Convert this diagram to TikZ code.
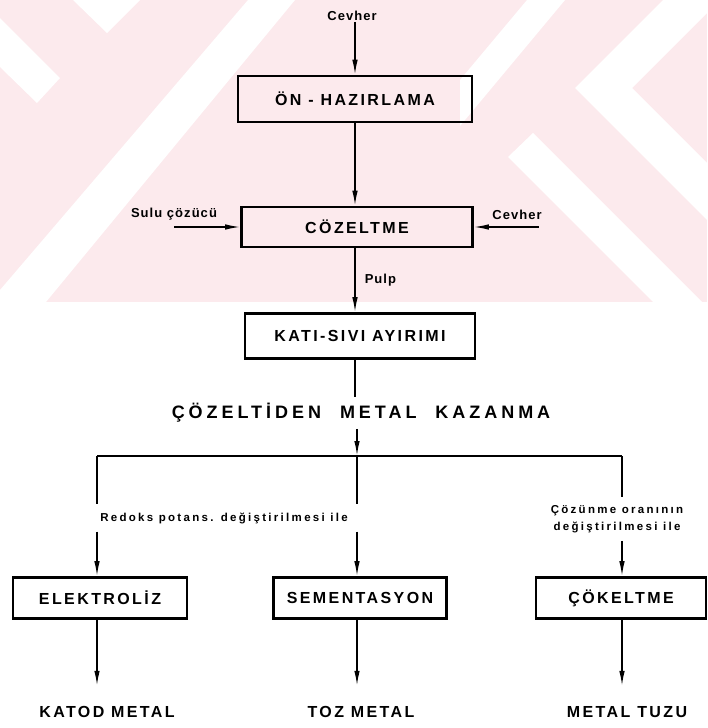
\documentclass[tikz,border=0pt]{standalone}
\usepackage{fontspec}
\setmainfont{Liberation Sans}
\newfontfamily\boxfont[LetterSpace=15]{Liberation Sans}
\newfontfamily\feedfont[LetterSpace=8]{Liberation Sans}
\newfontfamily\notefont[LetterSpace=20]{Liberation Sans}
\newfontfamily\headfont[LetterSpace=22]{Liberation Sans}
\usetikzlibrary{arrows.meta}
\definecolor{wmpink}{RGB}{252,234,237}

\tikzset{
  proc/.style={draw,line width=2.6pt,inner sep=0pt,
    font=\boxfont\bfseries\fontsize{16}{18}\selectfont},
  flow/.style={line width=1.5pt},
  lbl/.style={inner sep=1pt,font=\feedfont\bfseries\fontsize{13}{15}\selectfont},
  note/.style={inner xsep=2pt,inner ysep=8pt,align=center,
    font=\notefont\bfseries\fontsize{11.5}{17}\selectfont},
  head/.style={inner ysep=6pt,font=\headfont\bfseries\fontsize{18}{20}\selectfont},
  product/.style={font=\boxfont\bfseries\fontsize{16}{18}\selectfont}
}

\begin{document}
\begin{tikzpicture}[x=1pt,y=-1pt,>={Latex[length=15pt,width=5.5pt]}]
    \def\boxh{41}
    \useasboundingbox (0,0) rectangle (707,728);

    \fill[wmpink] (0,0) rectangle (707,302);
    \fill[white] (0,18) -- (60,78) -- (37,103) -- (0,67) -- cycle;
    \fill[white] (73,0) -- (140,0) -- (107,33) -- cycle;
    \fill[white] (0,290) -- (248,0) -- (295,0) -- (46,302) -- (0,302) -- cycle;
    \fill[white] (527,0) -- (565,0) -- (460,126) -- (460,80) -- cycle;
    \fill[white] (663,0) -- (575,88) -- (707,220) -- (707,163)
        -- (632,88) -- (707,13) -- (707,0) -- cycle;
    \fill[white] (533,133) -- (702,302) -- (653,302) -- (508,157) -- cycle;

    \coordinate (ax) at (355,0);
    \node[lbl] (cevher) at (352,16) {Cevher};
    \node[proc,minimum width=234,minimum height=46] (onhaz) at (355,99) {ÖN - HAZIRLAMA};
    \node[proc,minimum width=231,minimum height=40] (cozel) at (357,227) {CÖZELTME};
    \node[lbl] (sulu) at (174,214) {Sulu çözücü};
    \node[lbl] (cevher2) at (517,215) {Cevher};
    \node[proc,minimum width=230,minimum height=45] (kati) at (360,336) {KATI-SIVI AYIRIMI};
    \node[head] (baslik) at (361,413) {ÇÖZELTİDEN\hspace{10pt} METAL\hspace{10pt} KAZANMA};

    \draw[->,flow] (cevher.south -| ax) -- (onhaz.north -| ax);
    \draw[->,flow] (onhaz.south -| ax) -- (cozel.north -| ax);
    \draw[->,flow] (sulu.south |- cozel.west) -- (cozel.west);
    \draw[->,flow] ([xshift=-4pt]cevher2.south east |- cozel.east) -- (cozel.east);
    \draw[->,flow] (cozel.south -| ax) -- (kati.north -| ax)
        node[lbl,midway,right=8pt] (pulp) {Pulp};
    \draw[flow] (kati.south -| ax) -- (baslik.north -| ax);

    \coordinate (dal) at (357,456);
    \coordinate (dalL) at (97,456);
    \coordinate (dalR) at (622,456);
    \draw[->,flow] (baslik.south -| dal) -- (dal);
    \draw[flow] (dalL) -- (dalR);

    \node[note] (redoks) at (224,518) {Redoks potans. değiştirilmesi ile};
    \node[note] (cozunme) at (617,519) {Çözünme oranının\\değiştirilmesi ile};

    \node[proc,minimum width=174,minimum height=\boxh] (elek) at (100,598) {ELEKTROLİZ};
    \node[proc,minimum width=173,minimum height=\boxh] (sement) at (360,598) {SEMENTASYON};
    \node[proc,minimum width=170,minimum height=\boxh] (cokel) at (621,598) {ÇÖKELTME};

    \draw[flow] (dalL) -- (dalL |- redoks.north);
    \draw[->,flow] (dalL |- redoks.south) -- (elek.north -| dalL);
    \draw[flow] (dal) -- (dal |- redoks.north);
    \draw[->,flow] (dal |- redoks.south) -- (sement.north -| dal);
    \draw[flow] (dalR) -- (cozunme.north -| dalR);
    \draw[->,flow] (cozunme.south -| dalR) -- (cokel.north -| dalR);

    \node[product] (katod) at (107,712) {KATOD METAL};
    \node[product] (toz) at (361,712) {TOZ METAL};
    \node[product] (tuz) at (627,712) {METAL TUZU};

    \draw[->,flow,shorten >=17pt] (elek.south -| dalL) -- (katod.north -| dalL);
    \draw[->,flow,shorten >=17pt] (sement.south -| dal) -- (toz.north -| dal);
    \draw[->,flow,shorten >=17pt] (cokel.south -| dalR) -- (tuz.north -| dalR);
\end{tikzpicture}
\end{document}
